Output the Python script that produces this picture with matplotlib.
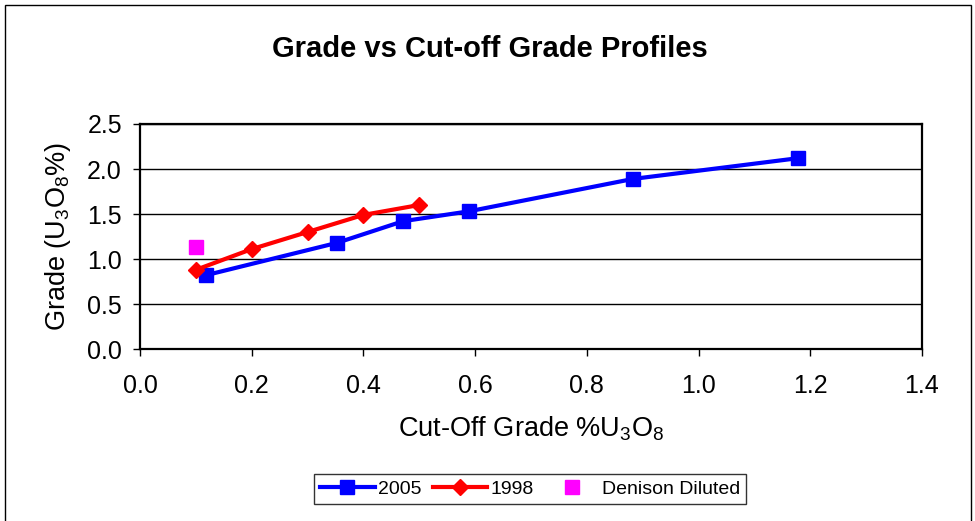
import matplotlib
matplotlib.use("Agg")
import matplotlib.pyplot as plt
from matplotlib.patches import Rectangle

plt.rcParams['font.family'] = ['Liberation Sans', 'DejaVu Sans']
plt.rcParams['mathtext.fontset'] = 'custom'
plt.rcParams['mathtext.rm'] = 'Liberation Sans'
plt.rcParams['mathtext.it'] = 'Liberation Sans:italic'

# 2005 profile
cut_2005 = [0.118, 0.353, 0.471, 0.589, 0.883, 1.178]
grade_2005 = [0.82, 1.18, 1.42, 1.53, 1.89, 2.12]

# 1998 profile
cut_1998 = [0.10, 0.20, 0.30, 0.40, 0.50]
grade_1998 = [0.88, 1.11, 1.30, 1.49, 1.60]

# Denison diluted point
cut_den = [0.10]
grade_den = [1.13]

fig = plt.figure(figsize=(9.75, 5.21), dpi=100)
ax = fig.add_axes([0.1436, 0.3301, 0.8020, 0.4319])

ax.plot(cut_2005, grade_2005, color='#0000ff', lw=3, marker='s', ms=10,
        label='2005', zorder=3)
ax.plot(cut_1998, grade_1998, color='#ff0000', lw=3, marker='D', ms=8,
        label='1998', zorder=3)
ax.plot(cut_den, grade_den, ls='none', color='#ff00ff', marker='s', ms=10,
        label='Denison Diluted', zorder=3)

ax.set_xlim(0, 1.4)
ax.set_ylim(0, 2.5)
ax.set_xticks([0.0, 0.2, 0.4, 0.6, 0.8, 1.0, 1.2, 1.4])
ax.set_yticks([0.0, 0.5, 1.0, 1.5, 2.0, 2.5])
ax.xaxis.set_major_formatter(matplotlib.ticker.FormatStrFormatter('%.1f'))
ax.yaxis.set_major_formatter(matplotlib.ticker.FormatStrFormatter('%.1f'))
ax.tick_params(axis='x', labelsize=18, length=5, width=1, pad=13)
ax.tick_params(axis='y', labelsize=18, length=5, width=1, pad=8)
ax.grid(axis='y', color='black', lw=1)
ax.set_axisbelow(True)
for s in ax.spines.values():
    s.set_linewidth(1.6)
    s.set_color('black')

ax.set_xlabel('Cut-Off Grade %U$_3$O$_8$', fontsize=19.5, labelpad=12)
ax.set_ylabel('Grade (U$_3$O$_8$%)', fontsize=19.5, labelpad=10)
fig.text(0.502, 0.905, 'Grade vs Cut-off Grade Profiles', ha='center', va='center',
         fontsize=21, fontweight='bold')

leg = fig.legend(loc='center', bbox_to_anchor=(0.544, 0.0614), ncol=3,
                 fontsize=14, frameon=True, fancybox=False, handlelength=2.8,
                 columnspacing=0.6, handletextpad=0.15, borderpad=0.3,
                 borderaxespad=0)
leg.get_frame().set_edgecolor('black')
leg.get_frame().set_linewidth(1)

# outer chart border
fig.patches.append(Rectangle((5 / 975, -0.05), 966 / 975, 1.05 - 5 / 521,
                             transform=fig.transFigure, fill=False,
                             edgecolor='black', lw=1))

fig.savefig('out.png', dpi=100)
